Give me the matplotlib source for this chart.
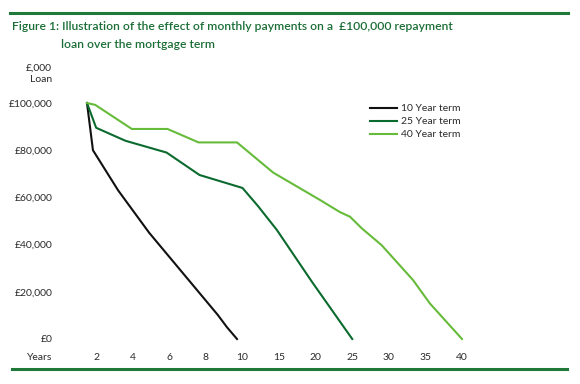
import numpy as np
import matplotlib
matplotlib.use("Agg")
import matplotlib.pyplot as plt
from matplotlib.lines import Line2D

# ---- data (years, loan outstanding in £) ----
years_10 = [0, 1.3, 3.2, 4.9, 8.65, 9.15, 9.7]
loan_10 = [100000, 80000, 63000, 45000, 10200, 5000, 0]

years_25 = [0, 2, 3.6, 5.85, 7.65, 10, 12.1, 14.7, 19.5, 25]
loan_25 = [100000, 89500, 84000, 79000, 69500, 64000, 56400, 46200, 24200, 0]

years_40 = [0, 1.8, 3.95, 5.9, 7.6, 9.7, 14.2, 20.6, 23.3, 24.7, 26.3, 29.0, 33.3, 35.6, 40]
loan_40 = [100000, 99200, 89000, 89000, 83300, 83300, 70500, 58900, 53800, 51800, 46900, 39800, 25000, 15100, 0]

x_ticks = [2, 4, 6, 8, 10, 15, 20, 25, 30, 35, 40]
y_ticks = [0, 20000, 40000, 60000, 80000, 100000]
y_tick_labels = ["£0", "£20,000", "£40,000", "£60,000", "£80,000", "£100,000"]
series_names = ["10 Year term", "25 Year term", "40 Year term"]

# ---- style ----
FONT = "Lato"
TITLE_SIZE = 8.75
GREEN_TITLE = "#1b6e36"
RULE = "#1f7a3a"
C_BLACK = "#111111"
C_DARK = "#0b6a2e"
C_LIGHT = "#66bb3a"
TXT = "#2a2a2a"

W, H = 580, 384
fig = plt.figure(figsize=(W / 100, H / 100), dpi=100)

# piecewise axis: 0-2 compressed, 2-10 wide, 10-40 narrower
_yb = [0, 2, 10, 40]
_ub = [0, 0.25, 4.25, 10.25]
fwd = lambda x: np.interp(x, _yb, _ub)
inv = lambda u: np.interp(u, _ub, _yb)

def px(x0, y0, x1, y1):
    return [x0 / W, 1 - y1 / H, (x1 - x0) / W, (y1 - y0) / H]

ax = fig.add_axes(px(87, 103, 462, 339))
ax.set_xscale("function", functions=(fwd, inv))
ax.set_xlim(0, 40)
ax.set_ylim(0, 100000)

lw = 1.5
ax.plot(years_10, loan_10, color=C_BLACK, lw=lw, label=series_names[0], clip_on=False)
ax.plot(years_25, loan_25, color=C_DARK, lw=lw, label=series_names[1], clip_on=False)
ax.plot(years_40, loan_40, color=C_LIGHT, lw=lw, label=series_names[2], clip_on=False)

for s in ax.spines.values():
    s.set_visible(False)
ax.set_xticks(x_ticks)
ax.set_xticklabels([str(t) for t in x_ticks])
ax.set_yticks(y_ticks)
ax.set_yticklabels(y_tick_labels)
ax.xaxis.set_minor_locator(matplotlib.ticker.NullLocator())
ax.tick_params(axis="both", length=0, labelsize=7.5, labelcolor=TXT)
ax.tick_params(axis="y", pad=25)
ax.tick_params(axis="x", pad=10)
for lab in ax.get_xticklabels() + ax.get_yticklabels():
    lab.set_fontfamily(FONT)

fig.text(52 / W, 1 - 357 / H, "Years", ha="right", va="center", fontsize=7.5,
         color=TXT, family=FONT)
fig.text(52 / W, 1 - 68 / H, "£,000", ha="right", va="center", fontsize=7.5,
         color=TXT, family=FONT)
fig.text(52 / W, 1 - 79 / H, "Loan", ha="right", va="center", fontsize=7.5,
         color=TXT, family=FONT)

leg = ax.legend(loc="upper left", bbox_to_anchor=((366 - 87) / 375, 1 - (100 - 103) / 236),
                frameon=False, prop={"family": FONT, "size": 7.5},
                handlelength=2.6, handletextpad=0.4, labelspacing=0.35, borderaxespad=0)
for t in leg.get_texts():
    t.set_color(TXT)

# title and rules
fig.add_artist(Line2D([10 / W, 568 / W], [1 - 13 / H, 1 - 13 / H], color=RULE, lw=2.2))
fig.add_artist(Line2D([12 / W, 567 / W], [1 - 369 / H, 1 - 369 / H], color=RULE, lw=2.2))
fig.text(12 / W, 1 - 27 / H,
         "Figure 1: Illustration of the effect of monthly payments on a  £100,000 repayment",
         ha="left", va="center", fontsize=TITLE_SIZE, color=GREEN_TITLE, family=FONT,
         weight="semibold")
fig.text(61 / W, 1 - 45 / H, "loan over the mortgage term",
         ha="left", va="center", fontsize=TITLE_SIZE, color=GREEN_TITLE, family=FONT,
         weight="semibold")

fig.savefig("out.png", dpi=100)
